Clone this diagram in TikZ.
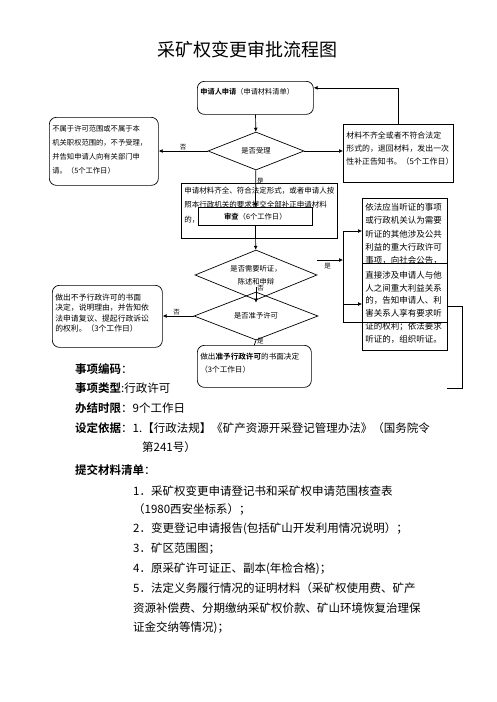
\documentclass[tikz,border=0pt]{standalone}
\usepackage{fontspec}
\setmainfont{Noto Sans CJK SC}[BoldFont={Noto Sans CJK SC Bold}]
\usetikzlibrary{arrows.meta, shapes.geometric, positioning}

% text block pinned to the top of its box
\newcommand{\toptext}[4][3pt]{\parbox[c][#2][t]{#3}{\raggedright\vspace*{#1}#4}}

\begin{document}
\begin{tikzpicture}[
		x=1pt, y=-1pt,
		>={Latex[length=4pt, width=4pt]},
		flow/.style ={
			draw=black, line width=0.7pt, fill=white,
			inner sep=3pt, anchor=north west
		},
		softbox/.style ={
			flow, rounded corners=7pt
		},
		decision/.style={
			diamond, draw=black, line width=0.7pt, inner sep=0pt, shape aspect=2.4,
			font=\fontsize{7.3}{13}\selectfont, align=center
		},
		link/.style ={line width=0.7pt},
		yesno/.style ={font=\fontsize{6.5}{7}\selectfont, inner sep=1pt},
		info/.style ={anchor=west, inner sep=0pt, font=\fontsize{11.5}{13}\selectfont},
	]
	\useasboundingbox (0,0) rectangle (496,702);

	\newcommand{\lmid}{256}
	
	% title
	\node (title) at (247,50) {\fontsize{18}{22}\selectfont 采矿权变更审批流程图};
	
	% nodes
	\node (apply) at (197,81) [softbox, font=\fontsize{7.2}{13}\selectfont]
		{\toptext[3.7pt]{27pt}{110pt}{\textbf{申请人申请}（申请材料清单）}};
	\node (check) at (\lmid,151) [decision, minimum width=96, minimum height=38] {是否受理};
	\node (reject) at (49,117) [softbox, font=\fontsize{7.3}{14}\selectfont]
		{\toptext[4.7pt]{62pt}{103pt}{不属于许可范围或不属于本\\机关职权范围的，不予受理，\\并告知申请人向有关部门申\\请。（5个工作日）}};
	\node (amend) at (343,124) [flow, font=\fontsize{7.9}{13.3}\selectfont]
		{\toptext[4.3pt]{52pt}{104pt}{材料不齐全或者不符合法定\\形式的，退回材料，发出一次\\性补正告知书。（5个工作日）}};
	\node (accept) at (181,183) [flow, font=\fontsize{7.5}{14.5}\selectfont]
		{\toptext[0.5pt]{49pt}{150pt}{申请材料齐全、符合法定形式，或者申请人按\\照本行政机关的要求提交全部补正申请材料\\的，出具受理通知书。}};
	\node (review) at (198,207) [flow, minimum width=114, minimum height=18, inner sep=0pt,
		font=\fontsize{7.3}{9}\selectfont]
		{\textbf{审查}（6个工作日）};
	\node (hear) at (\lmid,275) [decision, minimum width=122, minimum height=50]
		{是否需要听证，\\陈述和申辩};
	\node (grant) at (\lmid,316) [decision, minimum width=124, minimum height=48] {是否准予许可};
	\node (public) at (362,198) [flow, font=\fontsize{8.5}{13.3}\selectfont]
		{\toptext[2pt]{118pt}{79pt}{依法应当听证的事项\\或行政机关认为需要\\听证的其他涉及公共\\利益的重大行政许可\\事项，向社会公告，}};
	\node (notify) at (362,263) [flow, font=\fontsize{8.5}{12.7}\selectfont]
		{\toptext[5pt]{81pt}{79pt}{直接涉及申请人与他\\人之间重大利益关系\\的，告知申请人、利\\害关系人享有要求听\\证的权利；依法要求\\听证的，组织听证。}};
	\node (deny) at (52,285) [softbox, font=\fontsize{7.8}{10.5}\selectfont]
		{\toptext[5.3pt]{56pt}{104pt}{做出不予行政许可的书面\\决定，说明理由，并告知依\\法申请复议、提起行政诉讼\\的权利。（3个工作日）}};
	\node (permit) at (197,345) [softbox, font=\fontsize{7.6}{13.5}\selectfont]
		{\toptext[4.3pt]{36pt}{108pt}{做出\textbf{准予行政许可}的书面决定\\（3个工作日）}};
	\coordinate (split) at (343,260);
	\coordinate (back) at (447,388);
	
	% interconnections
	\draw [link, ->] (apply) -- (check);
	\draw [link, ->] (check) -- node [yesno, above, pos=0.5] {否} (reject.east |- check);
	\draw [link, ->] (check) -- (amend.west |- check);
	\draw [link, ->] (amend.north) |- ([yshift=10pt]apply.east);
	\draw [link, ->] (check) -- node [yesno, right, pos=0.3] {是} (review);
	\draw [link, ->] (review) -- (hear);
	\draw [link, ->] ([yshift=15pt]hear.east) -- node [yesno, below, pos=0.4, yshift=-2pt] {是} (split);
	\draw [link] (split |- 0,231) -- (split |- 0,322) -- (notify.east |- 0,322);
	\draw [link, ->] (split |- 0,231) -- (public.west |- 0,231);
	\draw [link, ->] (split |- 0,304) -- (notify.west |- 0,304);
	\draw [link, ->] ([yshift=-12pt]hear.center) -- node [yesno, right, pos=0.1] {否} ([yshift=-11pt]grant.north);
	\draw [link, ->] (grant) -- node [yesno, above, pos=0.55] {否} (deny.east |- grant);
	\draw [link] (grant.south) -- node [yesno, right, pos=0.2] {是} (permit.north);
	\draw [link] (notify.east |- 0,306) -| (462,388) -- (back);
	
	% item details
	\foreach \y/\x/\t in {
		369/75/{\textbf{事项编码}：},
		388/75/{\textbf{事项类型}:行政许可},
		408/75/{\textbf{办结时限}：9个工作日},
		428/75/{\textbf{设定依据}：1.【行政法规】《矿产资源开采登记管理办法》（国务院令},
		447/142/{第241号）},
		470/75/{\textbf{提交材料清单}：},
		491/133/{1．采矿权变更申请登记书和采矿权申请范围核查表},
		509/133/{（1980西安坐标系）；},
		529/133/{2．变更登记申请报告(包括矿山开发利用情况说明）；},
		549/133/{3．矿区范围图；},
		569/133/{4．原采矿许可证正、副本(年检合格)；},
		588/133/{5．法定义务履行情况的证明材料（采矿权使用费、矿产},
		608/133/{资源补偿费、分期缴纳采矿权价款、矿山环境恢复治理保},
		628/133/{证金交纳等情况)；}}
		\node [info] (line\y) at (\x,\y) {\t};
	
\end{tikzpicture}
\end{document}
